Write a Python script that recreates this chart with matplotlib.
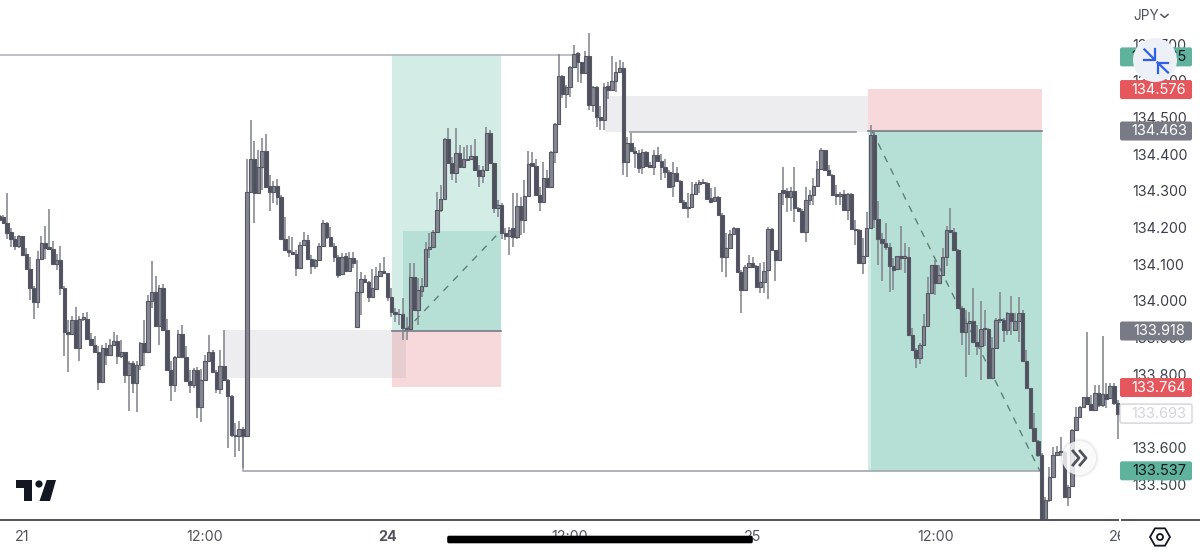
import matplotlib
matplotlib.use('Agg')
import matplotlib.pyplot as plt
from matplotlib.patches import Circle, FancyBboxPatch, Polygon, Rectangle, RegularPolygon

opens = [
    134.232, 134.228, 134.212, 134.187, 134.170, 134.150, 134.176, 134.128, 134.088, 134.035,
    133.998, 134.114, 134.159, 134.148, 134.141, 134.101, 134.112, 134.035, 133.914, 133.911,
    133.947, 133.873, 133.951, 133.950, 133.896, 133.879, 133.861, 133.780, 133.873, 133.853,
    133.879, 133.891, 133.851, 133.860, 133.797, 133.832, 133.776, 133.826, 133.885, 133.860,
    133.999, 134.025, 133.932, 134.034, 133.921, 133.812, 133.770, 133.846, 133.910, 133.847,
    133.783, 133.770, 133.812, 133.710, 133.785, 133.837, 133.862, 133.806, 133.761, 133.822,
    133.785, 133.740, 133.635, 133.633, 133.651, 133.633, 134.296, 134.388, 134.293, 134.366,
    134.409, 134.313, 134.298, 134.313, 134.282, 134.168, 134.140, 134.134, 134.127, 134.091,
    134.152, 134.166, 134.113, 134.095, 134.111, 134.150, 134.213, 134.175, 134.150, 134.120,
    134.073, 134.122, 134.082, 134.116, 133.930, 134.025, 134.059, 134.051, 134.012, 134.032,
    134.068, 134.082, 134.075, 134.012, 133.969, 133.964, 133.964, 133.925, 133.924, 134.066,
    133.975, 134.028, 134.041, 134.141, 134.148, 134.189, 134.247, 134.278, 134.440, 134.377,
    134.348, 134.404, 134.364, 134.384, 134.386, 134.395, 134.358, 134.341, 134.358, 134.458,
    134.375, 134.252, 134.261, 134.186, 134.177, 134.200, 134.173, 134.259, 134.220, 134.287,
    134.375, 134.368, 134.289, 134.269, 134.334, 134.311, 134.406, 134.482, 134.613, 134.565,
    134.584, 134.638, 134.676, 134.650, 134.620, 134.667, 134.534, 134.584, 134.500, 134.493,
    134.585, 134.576, 134.600, 134.624, 134.634, 134.379, 134.429, 134.409, 134.404, 134.366,
    134.407, 134.370, 134.366, 134.398, 134.382, 134.364, 134.352, 134.313, 134.348, 134.328,
    134.270, 134.255, 134.257, 134.291, 134.318, 134.325, 134.320, 134.281, 134.273, 134.284,
    134.234, 134.119, 134.143, 134.182, 134.198, 134.080, 134.030, 134.093, 134.102, 134.095,
    134.039, 134.052, 134.083, 134.195, 134.139, 134.112, 134.302, 134.300, 134.282, 134.300,
    134.252, 134.246, 134.189, 134.275, 134.289, 134.313, 134.359, 134.410, 134.357, 134.343,
    134.291, 134.287, 134.291, 134.248, 134.291, 134.195, 134.192, 134.104, 134.123, 134.198,
    134.452, 134.222, 134.168, 134.157, 134.148, 134.095, 134.086, 134.123, 134.116, 134.121,
    133.907, 133.867, 133.844, 133.880, 133.933, 134.021, 134.097, 134.048, 134.071, 134.119,
    134.193, 134.189, 134.139, 133.982, 133.916, 133.939, 133.944, 133.889, 133.876, 133.923,
    133.923, 133.789, 133.871, 133.948, 133.948, 133.921, 133.968, 133.921, 133.944, 133.966,
    133.835, 133.762, 133.653, 133.617, 133.580, 133.380, 133.458, 133.521, 133.580, 133.591,
    133.589, 133.467, 133.497, 133.648, 133.685, 133.712, 133.737, 133.719, 133.703, 133.748,
    133.716, 133.746, 133.735, 133.769, 133.721,
]
highs = [
    134.235, 134.235, 134.294, 134.198, 134.177, 134.180, 134.177, 134.144, 134.119, 134.041,
    134.135, 134.177, 134.203, 134.250, 134.162, 134.128, 134.150, 134.041, 133.949, 133.958,
    133.983, 133.960, 133.967, 133.971, 133.912, 133.905, 133.876, 133.881, 133.885, 133.896,
    133.914, 133.908, 133.894, 133.862, 133.835, 133.835, 133.835, 133.887, 133.947, 134.017,
    134.108, 134.068, 134.044, 134.047, 133.950, 133.835, 133.849, 133.921, 133.935, 133.876,
    133.812, 133.817, 133.819, 133.814, 133.853, 133.908, 133.867, 133.812, 133.867, 133.921,
    133.787, 133.744, 133.667, 133.674, 133.656, 134.388, 134.493, 134.436, 134.411, 134.443,
    134.456, 134.343, 134.328, 134.331, 134.288, 134.229, 134.177, 134.173, 134.139, 134.161,
    134.189, 134.179, 134.125, 134.114, 134.157, 134.220, 134.216, 134.202, 134.157, 134.125,
    134.130, 134.131, 134.134, 134.134, 134.111, 134.078, 134.071, 134.055, 134.086, 134.093,
    134.102, 134.120, 134.077, 134.034, 133.980, 133.978, 134.007, 133.957, 134.102, 134.102,
    134.062, 134.062, 134.161, 134.184, 134.193, 134.298, 134.316, 134.443, 134.470, 134.393,
    134.470, 134.425, 134.420, 134.425, 134.425, 134.440, 134.370, 134.368, 134.473, 134.466,
    134.377, 134.275, 134.266, 134.198, 134.202, 134.295, 134.293, 134.284, 134.329, 134.409,
    134.407, 134.386, 134.311, 134.378, 134.357, 134.409, 134.484, 134.673, 134.615, 134.588,
    134.640, 134.697, 134.679, 134.652, 134.682, 134.729, 134.585, 134.585, 134.531, 134.593,
    134.597, 134.667, 134.652, 134.656, 134.650, 134.447, 134.457, 134.420, 134.411, 134.413,
    134.409, 134.379, 134.411, 134.420, 134.400, 134.388, 134.357, 134.379, 134.364, 134.329,
    134.275, 134.293, 134.325, 134.325, 134.329, 134.331, 134.325, 134.307, 134.311, 134.286,
    134.239, 134.184, 134.193, 134.202, 134.200, 134.084, 134.097, 134.125, 134.121, 134.099,
    134.102, 134.107, 134.202, 134.198, 134.139, 134.295, 134.366, 134.307, 134.310, 134.364,
    134.257, 134.250, 134.311, 134.302, 134.334, 134.380, 134.416, 134.411, 134.370, 134.346,
    134.316, 134.298, 134.302, 134.293, 134.293, 134.221, 134.195, 134.171, 134.243, 134.479,
    134.466, 134.271, 134.184, 134.212, 134.157, 134.116, 134.123, 134.204, 134.157, 134.148,
    133.926, 133.871, 133.885, 133.964, 134.064, 134.097, 134.112, 134.098, 134.145, 134.204,
    134.252, 134.198, 134.141, 133.985, 133.974, 133.971, 134.034, 133.935, 134.001, 133.974,
    133.926, 133.903, 133.953, 134.024, 133.953, 133.971, 134.014, 133.966, 134.010, 133.974,
    133.866, 133.762, 133.694, 133.621, 133.585, 133.467, 133.548, 133.603, 133.605, 133.628,
    133.592, 133.499, 133.650, 133.710, 133.714, 133.739, 133.916, 133.744, 133.771, 133.771,
    133.904, 133.775, 133.775, 133.775, 133.730,
]
lows = [
    134.219, 134.210, 134.168, 134.148, 134.139, 134.144, 134.123, 134.087, 134.003, 133.950,
    133.980, 134.112, 134.114, 134.139, 134.098, 134.083, 134.017, 133.851, 133.805, 133.908,
    133.871, 133.837, 133.944, 133.894, 133.876, 133.858, 133.756, 133.778, 133.826, 133.851,
    133.876, 133.829, 133.844, 133.776, 133.701, 133.749, 133.697, 133.812, 133.823, 133.858,
    133.980, 133.930, 133.879, 133.920, 133.811, 133.728, 133.753, 133.844, 133.844, 133.781,
    133.749, 133.762, 133.681, 133.670, 133.783, 133.835, 133.803, 133.749, 133.746, 133.783,
    133.599, 133.629, 133.574, 133.590, 133.545, 133.630, 134.293, 134.211, 134.291, 134.302,
    134.309, 134.245, 134.268, 134.261, 134.166, 134.139, 134.119, 134.125, 134.068, 134.089,
    134.150, 134.111, 134.072, 134.086, 134.110, 134.148, 134.168, 134.146, 134.107, 134.063,
    134.071, 134.080, 134.081, 134.089, 133.930, 133.962, 134.050, 133.996, 134.010, 134.030,
    134.066, 134.073, 134.001, 133.957, 133.943, 133.934, 133.894, 133.894, 133.923, 133.973,
    133.934, 134.012, 134.039, 134.116, 134.146, 134.187, 134.243, 134.275, 134.375, 134.329,
    134.320, 134.361, 134.361, 134.382, 134.384, 134.357, 134.311, 134.322, 134.357, 134.373,
    134.239, 134.230, 134.168, 134.166, 134.125, 134.148, 134.170, 134.180, 134.184, 134.284,
    134.366, 134.287, 134.245, 134.268, 134.309, 134.309, 134.375, 134.480, 134.552, 134.525,
    134.556, 134.636, 134.597, 134.593, 134.618, 134.520, 134.516, 134.475, 134.466, 134.466,
    134.549, 134.575, 134.570, 134.623, 134.343, 134.337, 134.407, 134.361, 134.348, 134.346,
    134.366, 134.361, 134.343, 134.379, 134.329, 134.334, 134.309, 134.284, 134.326, 134.269,
    134.250, 134.225, 134.254, 134.289, 134.293, 134.318, 134.278, 134.266, 134.270, 134.232,
    134.080, 134.066, 134.141, 134.180, 134.077, 133.968, 134.027, 134.091, 134.091, 134.037,
    134.021, 134.021, 134.005, 134.137, 134.053, 134.110, 134.261, 134.243, 134.246, 134.216,
    134.243, 134.186, 134.160, 134.261, 134.261, 134.311, 134.357, 134.355, 134.341, 134.286,
    134.261, 134.261, 134.246, 134.221, 134.193, 134.153, 134.103, 134.074, 134.121, 134.196,
    134.198, 134.098, 134.054, 134.139, 134.025, 134.030, 134.084, 134.084, 134.075, 133.906,
    133.865, 133.817, 133.828, 133.878, 133.931, 134.019, 134.016, 134.046, 134.069, 134.095,
    134.187, 134.137, 133.980, 133.880, 133.794, 133.853, 133.887, 133.853, 133.785, 133.876,
    133.787, 133.787, 133.869, 133.939, 133.889, 133.907, 133.907, 133.917, 133.889, 133.833,
    133.760, 133.650, 133.615, 133.576, 133.370, 133.370, 133.453, 133.519, 133.578, 133.578,
    133.465, 133.440, 133.494, 133.647, 133.683, 133.710, 133.717, 133.701, 133.701, 133.712,
    133.710, 133.707, 133.732, 133.716, 133.623,
]
closes = [
    134.221, 134.212, 134.185, 134.170, 134.150, 134.176, 134.126, 134.087, 134.035, 133.998,
    134.114, 134.159, 134.144, 134.141, 134.101, 134.112, 134.035, 133.914, 133.911, 133.947,
    133.873, 133.950, 133.955, 133.896, 133.879, 133.861, 133.780, 133.873, 133.853, 133.879,
    133.891, 133.851, 133.860, 133.797, 133.832, 133.776, 133.826, 133.885, 133.860, 133.999,
    134.025, 133.932, 134.034, 133.921, 133.812, 133.770, 133.846, 133.910, 133.847, 133.783,
    133.770, 133.812, 133.710, 133.785, 133.837, 133.862, 133.806, 133.761, 133.822, 133.785,
    133.740, 133.635, 133.633, 133.651, 133.633, 134.296, 134.388, 134.293, 134.366, 134.409,
    134.311, 134.298, 134.313, 134.282, 134.168, 134.140, 134.134, 134.127, 134.091, 134.152,
    134.166, 134.113, 134.095, 134.111, 134.150, 134.213, 134.175, 134.150, 134.120, 134.071,
    134.120, 134.082, 134.116, 134.104, 134.025, 134.059, 134.051, 134.012, 134.034, 134.068,
    134.082, 134.075, 134.012, 133.969, 133.964, 133.963, 133.925, 133.924, 134.066, 133.975,
    134.030, 134.041, 134.141, 134.148, 134.189, 134.247, 134.278, 134.440, 134.377, 134.348,
    134.404, 134.364, 134.386, 134.388, 134.395, 134.358, 134.341, 134.358, 134.458, 134.375,
    134.252, 134.261, 134.186, 134.177, 134.193, 134.173, 134.259, 134.220, 134.287, 134.373,
    134.368, 134.289, 134.269, 134.334, 134.311, 134.406, 134.482, 134.613, 134.565, 134.584,
    134.638, 134.674, 134.650, 134.620, 134.667, 134.534, 134.584, 134.500, 134.493, 134.584,
    134.576, 134.600, 134.624, 134.634, 134.379, 134.429, 134.409, 134.404, 134.361, 134.407,
    134.367, 134.364, 134.398, 134.382, 134.364, 134.352, 134.311, 134.348, 134.328, 134.270,
    134.252, 134.252, 134.291, 134.318, 134.323, 134.320, 134.279, 134.270, 134.284, 134.234,
    134.119, 134.143, 134.182, 134.198, 134.080, 134.030, 134.093, 134.102, 134.093, 134.039,
    134.052, 134.082, 134.195, 134.139, 134.112, 134.293, 134.293, 134.282, 134.300, 134.252,
    134.246, 134.189, 134.275, 134.289, 134.313, 134.359, 134.410, 134.357, 134.343, 134.289,
    134.287, 134.291, 134.248, 134.291, 134.195, 134.192, 134.104, 134.123, 134.198, 134.452,
    134.222, 134.168, 134.157, 134.148, 134.094, 134.084, 134.123, 134.116, 134.123, 133.907,
    133.867, 133.844, 133.880, 133.933, 134.021, 134.097, 134.048, 134.071, 134.119, 134.193,
    134.189, 134.139, 133.982, 133.916, 133.939, 133.944, 133.889, 133.876, 133.923, 133.926,
    133.789, 133.871, 133.948, 133.950, 133.921, 133.968, 133.944, 133.944, 133.966, 133.835,
    133.762, 133.653, 133.617, 133.580, 133.380, 133.458, 133.521, 133.580, 133.589, 133.588,
    133.467, 133.494, 133.648, 133.685, 133.712, 133.737, 133.719, 133.703, 133.748, 133.716,
    133.746, 133.733, 133.769, 133.721, 133.692,
]

# position tool zones: bar from, bar to, price bottom, price top
long_profit = [103.2, 131.8, 133.918, 134.670]
long_filled = [106.1, 131.8, 133.918, 134.191]
long_stop = [103.2, 131.8, 133.765, 133.918]
short_stop = [228.3, 274.1, 134.463, 134.578]
short_profit = [228.3, 274.1, 133.537, 134.463]
zone_a = [59.0, 106.9, 133.790, 133.921]
zone_b = [159.2, 228.3, 134.460, 134.559]

time_ticks = [6, 54, 102, 150, 198, 246, 294]
time_labels = ['21', '12:00', '24', '12:00', '25', '12:00', '26']
price_ticks = [134.7, 134.6, 134.5, 134.4, 134.3, 134.2, 134.1, 134.0, 133.9, 133.8, 133.7, 133.6, 133.5]

tag_prices = [134.665, 134.576, 134.463, 133.918, 133.764, 133.693, 133.537]
tag_fills = ['#5fb39c', '#e5575c', '#787b86', '#787b86', '#e5575c', '#ffffff', '#5fb39c']
tag_text = ['#131722', '#ffffff', '#ffffff', '#ffffff', '#ffffff', '#d1d4dc', '#131722']

DARK = '#50535e'

plt.rcParams['font.family'] = ['Inter', 'DejaVu Sans']
fig = plt.figure(figsize=(12, 5.54), dpi=100, facecolor='white')

ax = fig.add_axes([0, 34 / 554, 1120 / 1200, 520 / 554])
ax.set_xlim(0.105, 294.6)
ax.set_ylim(133.403, 134.820)


def zone(z, color, alpha=1.0, order=1):
    ax.add_patch(Rectangle((z[0], z[2]), z[1] - z[0], z[3] - z[2], fc=color, ec='none', alpha=alpha, zorder=order))


zone(long_profit, '#d3ece6')
zone(long_filled, '#b6dfd5', order=1.1)
zone(long_stop, '#f8d9db')
zone(short_stop, '#f8d9db')
zone(short_profit, '#b6dfd5')
zone([228.3, 229.0, 133.537, 134.463], '#d3ece6', order=1.1)
zone(zone_a, '#787b86', alpha=0.13, order=1.2)
zone(zone_b, '#787b86', alpha=0.13, order=1.2)

ax.plot([0, 152.6], [134.670, 134.670], color='#b2b5be', lw=1.2, zorder=2)
ax.plot([103.2, 131.8], [133.918, 133.918], color='#787b86', lw=1.2, zorder=2)
ax.plot([165.8, 225.2], [134.460, 134.460], color='#9598a1', lw=1.2, zorder=2)
ax.plot([228.3, 274.1], [134.463, 134.463], color='#787b86', lw=1.2, zorder=2)
ax.plot([64, 64, 274.1], [133.633, 133.537, 133.537], color='#a3a6af', lw=1.2, zorder=2)
ax.plot([106.6, 131.8], [133.918, 134.191], color='#5f7f78', lw=1, ls=(0, (5, 5)), zorder=2)
ax.plot([229.4, 273.5], [134.463, 133.537], color='#5f7f78', lw=1, ls=(0, (5, 5)), zorder=2)

bars = range(len(opens))
ax.vlines(bars, lows, highs, color='#7e818c', lw=1.1, zorder=3)
bottoms = [min(o, c) for o, c in zip(opens, closes)]
heights = [max(abs(c - o), 0.002) for o, c in zip(opens, closes)]
fills = ['#84878f' if c >= o else '#4f525e' for o, c in zip(opens, closes)]
ax.bar(bars, heights, bottom=bottoms, width=0.9, color=fills, edgecolor='#565965', lw=0.8, zorder=4)

for s in ax.spines.values():
    s.set_visible(False)
ax.yaxis.tick_right()
ax.set_yticks(price_ticks, [f'{p:.3f}' for p in price_ticks])
ax.set_xticks(time_ticks, time_labels)
ax.tick_params(axis='y', length=0, pad=9, labelsize=10.3, labelcolor='#3c3f4a')
ax.tick_params(axis='x', length=0, pad=7.5, labelsize=10.3, labelcolor=DARK)
ax.get_xticklabels()[2].set_fontweight('bold')

# app chrome on top, in screen pixels
ui = fig.add_axes([0, 0, 1, 1], facecolor='none')
ui.set_xlim(0, 1200)
ui.set_ylim(554, 0)
ui.axis('off')

for p, f, c in zip(tag_prices, tag_fills, tag_text):
    y = 554 - ax.transData.transform((1, p))[1]
    ui.add_patch(FancyBboxPatch((1122, y - 7.5), 68, 15, boxstyle='round,pad=2', fc=f,
                                ec='#d1d4dc' if f == '#ffffff' else 'none', lw=1))
    ui.text(1159, y, f'{p:.3f}', ha='center', va='center', fontsize=10.5, color=c)

ui.add_patch(Rectangle((1120, 521), 80, 33, fc='white', ec='none'))
ui.plot([0, 1200], [520, 520], color='#50535e', lw=1.4)
ui.plot([1120, 1120], [519, 521], color='white', lw=1.4)

ui.text(1133, 16, 'JPY', fontsize=9.8, color=DARK, va='center')
ui.plot([1161, 1164.5, 1168], [14.5, 17.5, 14.5], color=DARK, lw=1.1)

ui.add_patch(Circle((1155, 60), 22, fc='#eef0f8', ec='none', zorder=5))
blue = '#2f5fe8'
ui.plot([1144.5, 1154.5], [49.5, 59.5], color=blue, lw=1.6, zorder=6)
ui.plot([1144, 1154.5, 1154.5], [59.5, 59.5, 49], color=blue, lw=1.6, zorder=6)
ui.plot([1168, 1157.5], [72.5, 62.5], color=blue, lw=1.6, zorder=6)
ui.plot([1168, 1157.5, 1157.5], [62.5, 62.5, 72.5], color=blue, lw=1.6, zorder=6)

for r, a in zip([20, 19, 18], [0.04, 0.05, 0.06]):
    ui.add_patch(Circle((1079, 458), r, fc='#787b86', ec='none', alpha=a))
ui.add_patch(Circle((1079, 458), 17, fc='white', ec='none', alpha=0.8))
ui.plot([1073, 1079, 1073], [451, 458, 465], color=DARK, lw=2)
ui.plot([1080, 1086, 1080], [451, 458, 465], color=DARK, lw=2)

ui.add_patch(Polygon([(16, 480), (32, 480), (32, 501), (24, 501), (24, 488), (16, 488)], fc='#131722', ec='none'))
ui.add_patch(Circle((39, 484), 3.6, fc='#131722', ec='none'))
ui.add_patch(Polygon([(46.7, 480), (56, 480), (50, 501), (39.5, 501)], fc='#131722', ec='none'))

ui.add_patch(RegularPolygon((1160, 537), 6, radius=10, orientation=0.5236, fc='white', ec='#131722', lw=1.3))
ui.add_patch(Circle((1160, 537), 3, fc='white', ec='#131722', lw=1.3))

ui.add_patch(FancyBboxPatch((449, 537.5), 302, 4, boxstyle='round,pad=1.8', fc='black', ec='none'))

fig.savefig('out.png', dpi=100)
